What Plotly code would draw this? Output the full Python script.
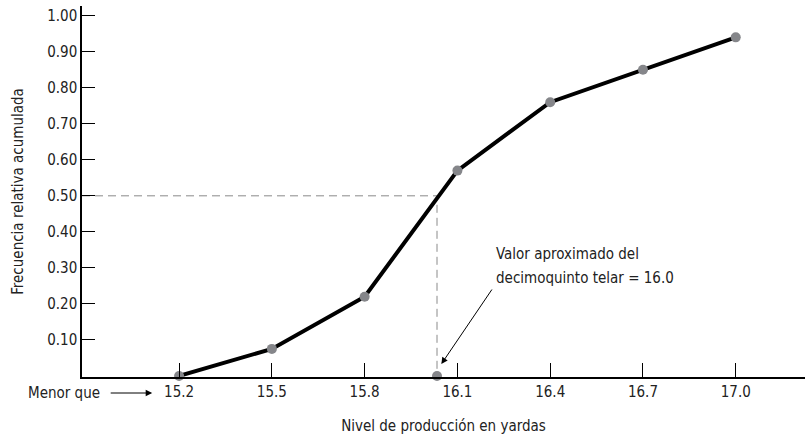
import plotly.graph_objects as go

# Data
x_vals = [15.2, 15.5, 15.8, 16.1, 16.4, 16.7, 17.0]
y_vals = [0.0, 0.075, 0.22, 0.57, 0.76, 0.85, 0.94]
x_ticks = [15.2, 15.5, 15.8, 16.1, 16.4, 16.7, 17.0]
x_tick_labels = ["15.2", "15.5", "15.8", "16.1", "16.4", "16.7", "17.0"]
y_ticks = [0.1, 0.2, 0.3, 0.4, 0.5, 0.6, 0.7, 0.8, 0.9, 1.0]
y_tick_labels = ["0.10", "0.20", "0.30", "0.40", "0.50", "0.60", "0.70", "0.80", "0.90", "1.00"]
median_level = 0.50
median_x = 16.034
note_lines = ["Valor aproximado del", "decimoquinto telar = 16.0"]

FONT = "DejaVu Sans Condensed, Liberation Sans Narrow, sans-serif"
FS = 15
TXT = "#222222"
X_MIN, X_MAX = 14.886, 17.224

fig = go.Figure()

# dashed guide lines
fig.add_trace(go.Scatter(
    x=[X_MIN, median_x, median_x], y=[median_level, median_level, 0.0],
    mode="lines", line=dict(color="#8a8a8a", width=1, dash="8px,5px"),
    hoverinfo="skip", showlegend=False, cliponaxis=False))

# ogive
fig.add_trace(go.Scatter(
    x=x_vals, y=y_vals, mode="lines+markers",
    line=dict(color="#000000", width=4),
    marker=dict(color="#85868a", size=10),
    showlegend=False, cliponaxis=False))

# point on axis at approx value
fig.add_trace(go.Scatter(
    x=[median_x], y=[0.0], mode="markers",
    marker=dict(color="#85868a", size=10),
    showlegend=False, cliponaxis=False))

fig.update_layout(
    width=805, height=439,
    margin=dict(l=82, r=0, t=6, b=62),
    paper_bgcolor="white", plot_bgcolor="white",
    font=dict(family=FONT, size=FS, color=TXT),
    xaxis=dict(
        range=[X_MIN, X_MAX], showgrid=False, zeroline=False,
        showline=True, linecolor="#000000", linewidth=1.5,
        tickmode="array", tickvals=x_ticks, ticktext=x_tick_labels,
        ticks="inside", ticklen=14, tickwidth=1.2, tickcolor="#000000",
        tickfont=dict(family=FONT, size=FS, color=TXT),
        title=dict(text="Nivel de producción en yardas",
                   font=dict(family=FONT, size=FS, color=TXT), standoff=21),
    ),
    yaxis=dict(
        range=[-0.003, 1.027], showgrid=False, zeroline=False,
        showline=True, linecolor="#000000", linewidth=1.5,
        tickmode="array", tickvals=y_ticks, ticktext=y_tick_labels,
        ticks="inside", ticklen=13, tickwidth=1.2, tickcolor="#000000",
        tickfont=dict(family=FONT, size=FS, color=TXT),
        title=dict(text="Frecuencia relativa acumulada",
                   font=dict(family=FONT, size=FS, color=TXT), standoff=20),
    ),
)

# annotation text (two lines, separately placed for line spacing)
for txt, yy in zip(note_lines, [0.3395, 0.273]):
    fig.add_annotation(
        x=16.219, y=yy, xref="x", yref="y", text=txt,
        showarrow=False, xanchor="left", yanchor="middle", align="left",
        font=dict(family=FONT, size=FS, color=TXT))

# annotation arrow
fig.add_annotation(
    x=16.048, y=0.033, xref="x", yref="y", text="",
    showarrow=True, arrowhead=2, arrowsize=1.3, arrowwidth=1, arrowcolor="#000000",
    ax=51.6, ay=-76, standoff=0)

# "Menor que" label with arrow
fig.add_annotation(
    x=14.951, y=0, xref="x", yref="paper", yshift=-16,
    text="Menor que", showarrow=False, xanchor="right", yanchor="middle",
    font=dict(family=FONT, size=FS, color=TXT))
fig.add_annotation(
    x=15.113, y=0, xref="x", yref="paper", yshift=-16, text="",
    showarrow=True, arrowhead=2, arrowsize=1.3, arrowwidth=1, arrowcolor="#000000",
    ax=-43, ay=0, standoff=0)

fig.write_html(
    "out.html",
    config={"displayModeBar": False},
    post_script="document.body.style.margin='0';document.body.style.overflow='hidden';",
)
